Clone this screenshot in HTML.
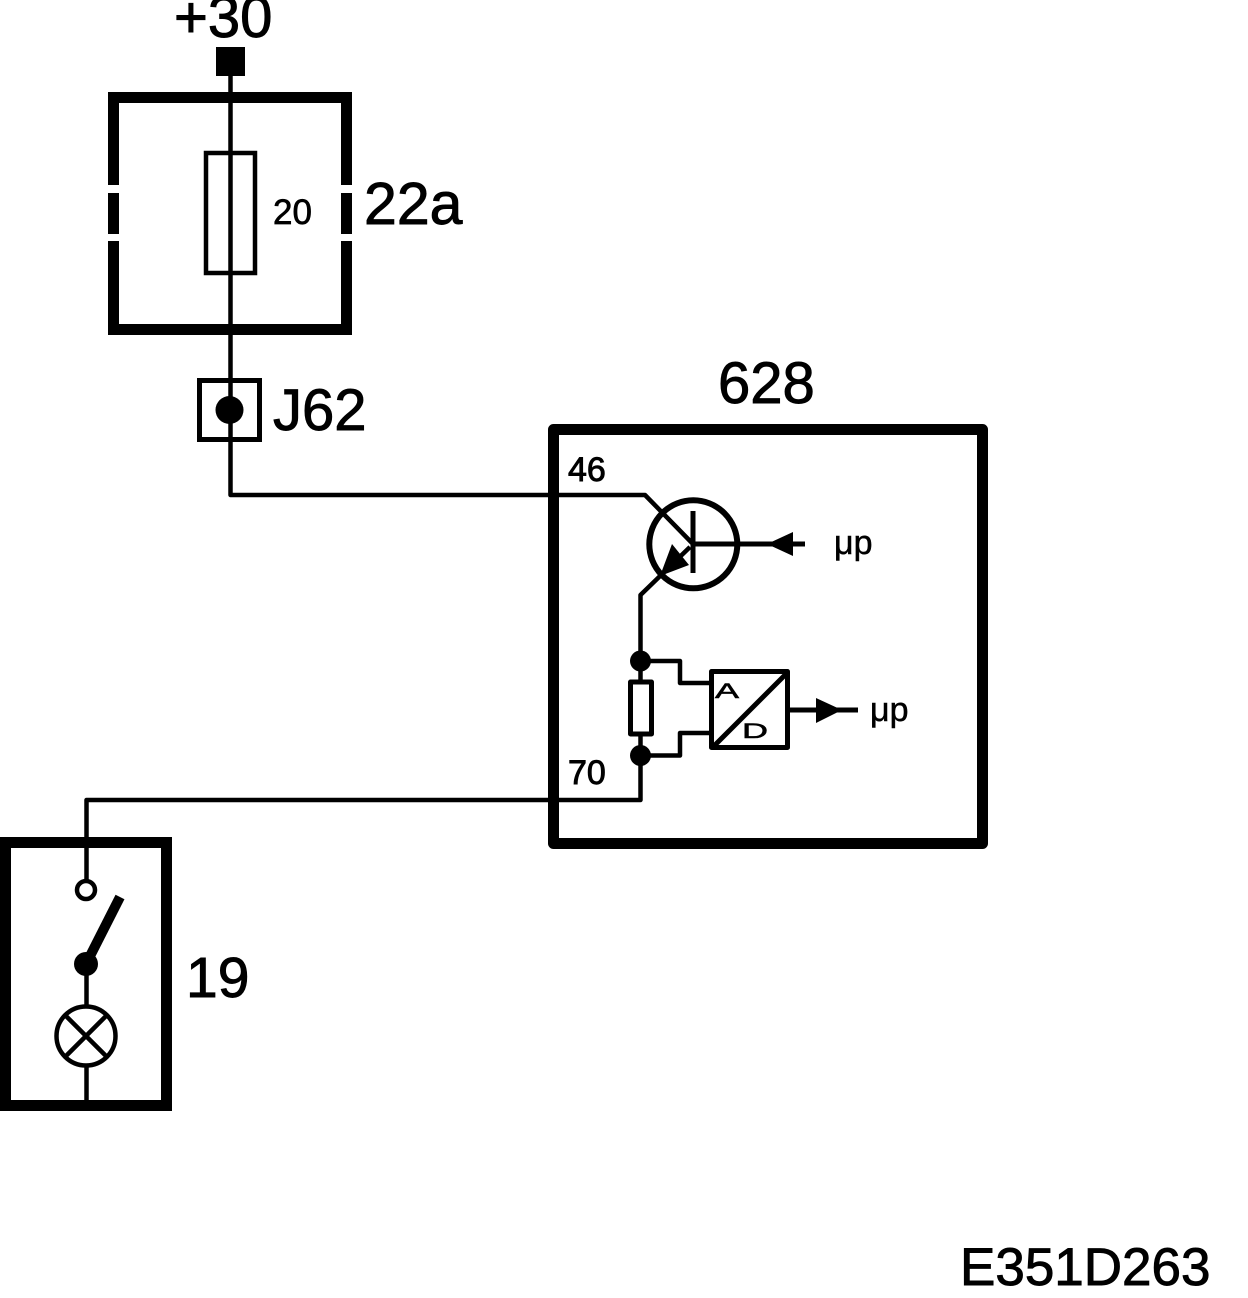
<!DOCTYPE html>
<html><head><meta charset="utf-8"><style>
html,body{margin:0;padding:0;background:#fff;width:1248px;height:1298px;overflow:hidden}
svg{display:block}
text{font-family:"Liberation Sans",Arial,sans-serif;fill:#000}
</style></head><body>
<svg width="1248" height="1298" viewBox="0 0 1248 1298" xmlns="http://www.w3.org/2000/svg">
<g fill="none" stroke="#000">
<rect x="113.5" y="97.5" width="233" height="232" stroke-width="11"/>
<rect x="206" y="153" width="49" height="120" stroke-width="4.5"/>
<rect x="199.5" y="380.5" width="60" height="59" stroke-width="5"/>
<rect x="553.5" y="429.5" width="429" height="414" stroke-width="11" stroke-linejoin="round"/>
<rect x="5.5" y="842.5" width="161" height="263" stroke-width="11"/>
</g>
<g fill="#fff">
<rect x="104" y="185" width="19" height="8"/><rect x="104" y="234" width="19" height="7"/>
<rect x="337" y="185" width="19" height="8"/><rect x="337" y="234" width="19" height="7"/>
</g>
<rect x="216" y="47" width="29" height="29" fill="#000"/>
<g fill="none" stroke="#000" stroke-width="4.5" stroke-linejoin="round">
<path d="M230.5 70V495H645L693 544"/>
<path d="M690 547L640.5 595V682M640.5 734V800H86.5V881"/>
<path d="M640.5 661H680V683H711M640.5 755.5H680V733H711"/>
<circle cx="693.3" cy="544.3" r="44" stroke-width="6"/>
<path d="M693 511V573" stroke-width="5"/>
<path d="M693 544H805" stroke-width="5"/>
<rect x="711.5" y="671.5" width="76" height="76" stroke-width="5"/>
<path d="M712 748L788 672" stroke-width="5"/>
<path d="M790 710H858" stroke-width="5"/>
<rect x="630.5" y="682" width="21" height="52" stroke-width="5"/>
<path d="M86.5 964V1006M86.5 1066V1100"/>
<circle cx="86" cy="890" r="9"/>
<circle cx="86" cy="1036" r="29.5"/>
<path d="M65 1015L107 1057M107 1015L65 1057"/>
<path d="M86 964L120 897" stroke-width="10"/>
</g>
<g fill="#000">
<circle cx="229.5" cy="410" r="14"/>
<circle cx="640.5" cy="661" r="10.5"/>
<circle cx="640.5" cy="755.5" r="10.5"/>
<circle cx="86" cy="964" r="12"/>
<path d="M767 544L793 532V556Z"/>
<path d="M842 710L816 698V723Z"/>
<path d="M672 544L689 565L660 576Z"/>
</g>
<g stroke="#000" stroke-width=".9">
<text x="174" y="37" font-size="58">+30</text>
<text x="364" y="224" font-size="59">22a</text>
<text x="273" y="430" font-size="58">J62</text>
<text x="718" y="403" font-size="58">628</text>
<text x="186" y="997" font-size="57">19</text>
<text x="960" y="1285" font-size="53">E351D263</text>
</g>
<text x="273" y="224" font-size="35" stroke="#000" stroke-width=".7">20</text>
<text x="568" y="481" font-size="34" stroke="#000" stroke-width=".9">46</text>
<text x="568" y="784" font-size="34" stroke="#000" stroke-width=".9">70</text>
<text x="834" y="554" font-size="34" stroke="#000" stroke-width=".5">μp</text>
<text x="870" y="721" font-size="34" stroke="#000" stroke-width=".5">μp</text>
<text transform="translate(715 698) scale(1.5 .88)" font-size="24" stroke="#000" stroke-width=".6">A</text>
<text transform="translate(742 738) scale(1.5 .88)" font-size="24" stroke="#000" stroke-width=".6">D</text>
</svg>
</body></html>
